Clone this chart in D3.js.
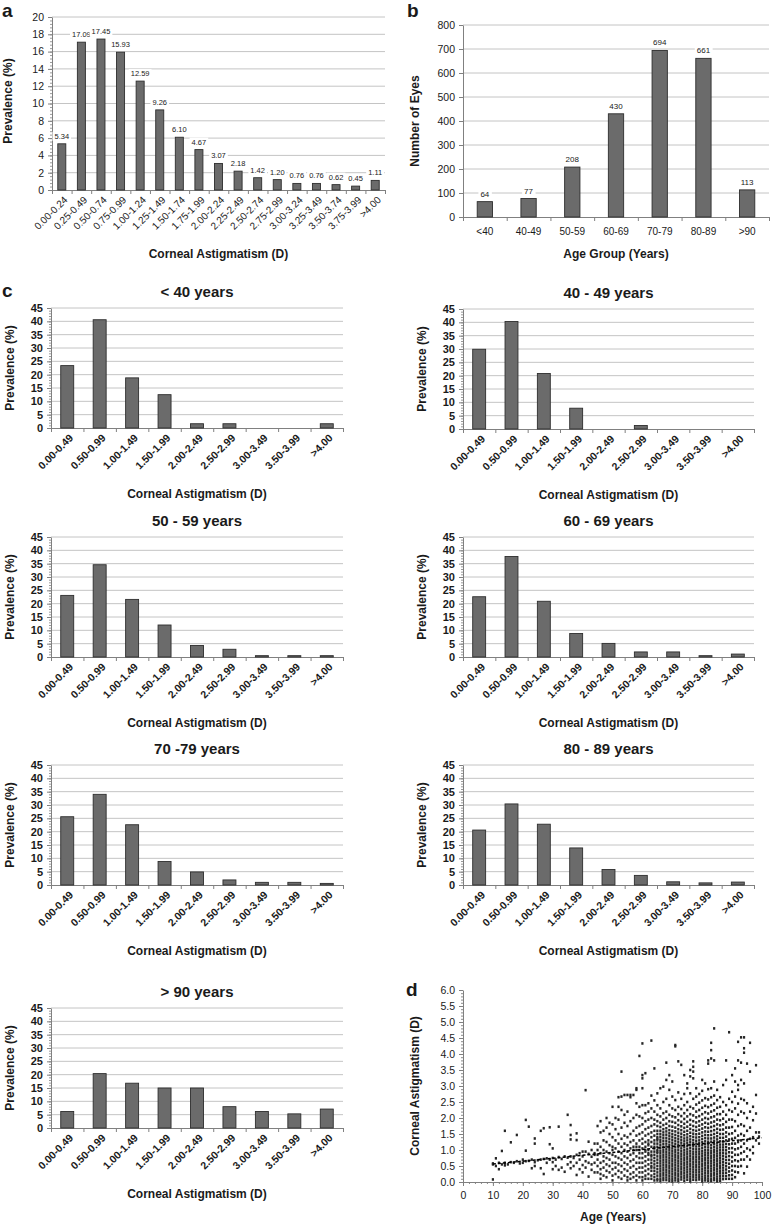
<!DOCTYPE html>
<html>
<head>
<meta charset="utf-8">
<script src="https://cdn.jsdelivr.net/npm/d3@7"></script>
<style>
  body { margin: 0; background: #fff; }
  svg text { font-family: "Liberation Sans", Arial, sans-serif; fill: #1a1a1a; }
</style>
</head>
<body>
<svg id="fig" width="774" height="1225"></svg>
<script>
// ---- panel a: prevalence by corneal astigmatism (all eyes)
const astigCatsFine = ['0.00-0.24', '0.25-0.49', '0.50-0.74', '0.75-0.99', '1.00-1.24', '1.25-1.49',
  '1.50-1.74', '1.75-1.99', '2.00-2.24', '2.25-2.49', '2.50-2.74', '2.75-2.99', '3.00-3.24',
  '3.25-3.49', '3.50-3.74', '3.75-3.99', '>4.00'];
const prevalenceAll = [5.34, 17.09, 17.45, 15.93, 12.59, 9.26, 6.10, 4.67, 3.07, 2.18, 1.42, 1.20,
  0.76, 0.76, 0.62, 0.45, 1.11];

// ---- panel b: eyes per age group
const ageGroups = ['<40', '40-49', '50-59', '60-69', '70-79', '80-89', '>90'];
const eyeCounts = [64, 77, 208, 430, 694, 661, 113];

// ---- panel c: prevalence by astigmatism, per age group
const astigCats = ['0.00-0.49', '0.50-0.99', '1.00-1.49', '1.50-1.99', '2.00-2.49', '2.50-2.99',
  '3.00-3.49', '3.50-3.99', '>4.00'];
const groupTitles = ['< 40 years', '40 - 49 years', '50 - 59 years', '60 - 69 years',
  '70 -79 years', '80 - 89 years', '> 90 years'];
const prevUnder40 = [23.4, 40.6, 18.8, 12.5, 1.6, 1.6, 0, 0, 1.6];
const prev40s = [29.9, 40.3, 20.8, 7.8, 0, 1.3, 0, 0, 0];
const prev50s = [23.1, 34.6, 21.6, 12.0, 4.3, 2.9, 0.5, 0.5, 0.5];
const prev60s = [22.6, 37.7, 20.9, 8.8, 5.1, 1.9, 1.9, 0.5, 1.1];
const prev70s = [25.6, 34.0, 22.6, 8.8, 4.9, 1.9, 1.0, 1.0, 0.6];
const prev80s = [20.6, 30.4, 22.8, 13.9, 5.8, 3.6, 1.2, 0.8, 1.1];
const prevOver90 = [6.2, 20.4, 16.8, 15.0, 15.0, 8.0, 6.2, 5.3, 7.1];

// ---- panel d: astigmatism vs age, one row per age (values in D)
const scatterRows = [
  [10, '0.08 0.58 0.55'], [11, '0.74 0.5'], [12, '0.4 0.6'], [13, '0.97 0.55'],
  [14, '1.6 0.6 0.52'], [15, '0.55'], [16, '1.24 0.62'], [17, '0.6'], [18, '1.47 0.65'],
  [19, '0.58'], [20, '0.6 0.7'], [21, '1.94 0.98 0.65'], [22, '1.73 0.66'], [23, '0.43 0.7'],
  [24, '1.36 1.2 0.5 0.62'], [25, '0.68'], [26, '1.6 0.43 0.7'], [27, '1.68 0.25 0.72'],
  [28, '0.74 0.6'], [29, '1.71 1.18 0.7'], [30, '1.05 0.4 0.75 0.62'], [31, '0.7 0.5'],
  [32, '1.73 0.38 0.78'], [33, '0.45 0.72'], [34, '0.32 0.8'], [35, '2.1 0.76 0.55'],
  [36, '1.78 1.47 1.33 0.43 0.8 0.62'], [37, '0.75 0.5'], [38, '1.52 1.31 0.22 0.85 0.6'],
  [39, '0.9 0.4 0.7'], [40, '0.53 0.95 0.8 0.3'], [41, '2.87 0.95 0.65 0.45'],
  [42, '1.26 0.17 0.88 0.6'], [43, '0.79 0.38 1.0 0.55'], [44, '1.2 0.85 0.6 0.3 0.9'],
  [45, '1.2 1.0 0.85 0.7 0.5 0.3 1.75'], [46, '1.9 1.55 1.1 0.9 0.6 0.4 0.1 0.25'],
  [47, '1.3 1.0 0.8 0.65 0.45 0.2 1.6'], [48, '2.0 1.7 1.25 0.95 0.75 0.55 0.35 0.15'],
  [49, '1.5 1.15 0.9 0.7 0.5 0.3 1.85'], [50, '2.35 1.8 1.4 1.1 0.85 0.6 0.4 0.2 0.05 1.0'],
  [51, '1.65 1.3 1.05 0.8 0.6 0.45 0.25 2.0'],
  [52, '2.35 1.95 1.5 1.2 0.95 0.75 0.55 0.35 0.15 2.65'],
  [53, '3.45 2.67 2.25 1.7 1.35 1.1 0.9 0.7 0.5 0.3 0.1'],
  [54, '1.85 1.45 1.2 1.0 0.8 0.6 0.4 0.2 2.1 2.72'],
  [55, '2.72 2.2 1.75 1.4 1.15 0.95 0.75 0.55 0.35 0.15 0.05'],
  [56, '2.65 1.9 1.5 1.25 1.05 0.85 0.65 0.45 0.25 0.1 2.72'],
  [57, '2.72 2.0 1.6 1.3 1.1 0.9 0.7 0.5 0.3 0.15 1.0'],
  [58, '2.88 2.46 2.1 1.7 1.45 1.2 1.0 0.8 0.6 0.4 0.2 0.05 1.1 2.93'],
  [59, '3.94 2.35 2.05 1.75 1.5 1.3 1.1 0.9 0.75 0.6 0.45 0.3 0.15 1.0'],
  [60, '4.33 3.34 3.24 2.93 2.4 2.0 1.8 1.55 1.35 1.2 1.05 0.9 0.75 0.6 0.45 0.3 0.15 0.05'],
  [61, '3.4 2.4 2.15 1.9 1.65 1.45 1.25 1.1 0.95 0.8 0.65 0.5 0.35 0.2 0.1 1.0'],
  [62, '2.46 2.2 1.95 1.7 1.5 1.3 1.15 1.0 0.85 0.7 0.55 0.4 0.25 0.1 0.9 1.2'],
  [63, '4.42 2.7 2.3 2.0 1.75 1.55 1.4 1.25 1.1 0.95 0.85 0.7 0.6 0.45 0.35 0.2 0.1 0.5 0.8'],
  [64, '3.55 2.55 2.2 1.95 1.8 1.6 1.45 1.3 1.2 1.05 0.95 0.85 0.75 0.65 0.55 0.45 0.35 0.25 0.15 0.05 1.1'],
  [65, '2.77 2.4 2.1 1.9 1.75 1.6 1.5 1.4 1.3 1.2 1.1 1.0 0.9 0.8 0.7 0.6 0.5 0.4 0.3 0.2 0.1 0.05 1.35 0.95'],
  [66, '2.93 2.3 2.05 1.85 1.72 1.6 1.5 1.41 1.32 1.24 1.15 1.07 0.98 0.9 0.82 0.74 0.66 0.58 0.5 0.42 0.34 0.26 0.18 0.1 0.03'],
  [67, '2.98 2.5 2.15 1.95 1.78 1.65 1.55 1.46 1.37 1.28 1.19 1.1 1.01 0.93 0.85 0.77 0.69 0.61 0.53 0.45 0.37 0.29 0.21 0.13 0.06'],
  [68, '3.73 3.19 2.6 2.2 2.0 1.82 1.68 1.58 1.48 1.38 1.29 1.2 1.11 1.02 0.94 0.86 0.78 0.7 0.62 0.54 0.46 0.38 0.3 0.22 0.14 0.06'],
  [69, '3.34 2.88 2.4 2.1 1.9 1.75 1.62 1.52 1.43 1.34 1.25 1.16 1.07 0.99 0.91 0.83 0.75 0.67 0.59 0.51 0.43 0.35 0.27 0.19 0.11 0.04'],
  [70, '3.14 2.67 2.3 2.05 1.88 1.73 1.6 1.5 1.41 1.32 1.23 1.14 1.05 0.97 0.89 0.81 0.73 0.65 0.57 0.49 0.41 0.33 0.25 0.17 0.09 0.02'],
  [71, '4.28 4.24 2.56 2.25 2.02 1.85 1.7 1.58 1.47 1.37 1.28 1.19 1.1 1.01 0.93 0.85 0.77 0.69 0.61 0.53 0.45 0.37 0.29 0.21 0.13 0.05'],
  [72, '3.77 2.8 2.35 2.12 1.93 1.78 1.65 1.54 1.44 1.35 1.26 1.17 1.08 0.99 0.9 0.82 0.74 0.66 0.58 0.5 0.42 0.34 0.26 0.18 0.1 0.03'],
  [73, '3.66 2.6 2.28 2.06 1.88 1.74 1.62 1.51 1.41 1.32 1.23 1.14 1.05 0.96 0.88 0.8 0.72 0.64 0.56 0.48 0.4 0.32 0.24 0.16 0.08'],
  [74, '3.34 2.75 2.4 2.15 1.97 1.82 1.69 1.57 1.46 1.36 1.27 1.18 1.09 1.0 0.92 0.84 0.76 0.68 0.6 0.52 0.44 0.36 0.28 0.2 0.12 0.04'],
  [75, '3.08 2.93 2.5 2.25 2.05 1.88 1.73 1.6 1.49 1.39 1.3 1.21 1.12 1.03 0.95 0.87 0.79 0.71 0.63 0.55 0.47 0.39 0.31 0.23 0.15 0.07'],
  [76, '3.5 3.3 2.77 2.35 2.12 1.94 1.79 1.66 1.54 1.43 1.33 1.24 1.15 1.06 0.97 0.89 0.81 0.73 0.65 0.57 0.49 0.41 0.33 0.25 0.17 0.09 0.02'],
  [77, '3.77 3.6 3.45 3.24 2.6 2.3 2.08 1.9 1.75 1.62 1.51 1.41 1.31 1.22 1.13 1.04 0.95 0.87 0.79 0.71 0.63 0.55 0.47 0.39 0.31 0.23 0.15 0.07'],
  [78, '2.93 2.67 2.42 2.2 2.02 1.86 1.72 1.6 1.49 1.39 1.29 1.2 1.11 1.02 0.94 0.86 0.78 0.7 0.62 0.54 0.46 0.38 0.3 0.22 0.14 0.06'],
  [79, '2.75 2.48 2.25 2.06 1.9 1.76 1.63 1.51 1.4 1.3 1.21 1.12 1.03 0.95 0.87 0.79 0.71 0.63 0.55 0.47 0.39 0.31 0.23 0.15 0.08'],
  [80, '3.19 2.85 2.55 2.32 2.12 1.95 1.8 1.67 1.55 1.44 1.34 1.24 1.15 1.06 0.97 0.89 0.81 0.73 0.65 0.57 0.49 0.41 0.33 0.25 0.17 0.09 0.02'],
  [81, '3.08 2.62 2.38 2.18 2.0 1.85 1.71 1.58 1.47 1.37 1.27 1.18 1.09 1.0 0.92 0.84 0.76 0.68 0.6 0.52 0.44 0.36 0.28 0.2 0.12 0.05'],
  [82, '3.8 3.7 2.9 2.58 2.34 2.14 1.97 1.82 1.69 1.57 1.46 1.36 1.26 1.17 1.08 0.99 0.91 0.83 0.75 0.67 0.59 0.51 0.43 0.35 0.27 0.19 0.11 0.04'],
  [83, '4.35 4.12 3.86 2.93 2.65 2.4 2.2 2.02 1.86 1.72 1.59 1.47 1.36 1.26 1.16 1.07 0.98 0.9 0.82 0.74 0.66 0.58 0.5 0.42 0.34 0.26 0.18 0.1 0.03'],
  [84, '4.8 3.8 3.14 2.7 2.45 2.24 2.05 1.89 1.75 1.62 1.5 1.39 1.29 1.19 1.1 1.01 0.93 0.85 0.77 0.69 0.61 0.53 0.45 0.37 0.29 0.21 0.13 0.06'],
  [85, '2.88 2.56 2.32 2.12 1.95 1.8 1.66 1.54 1.43 1.33 1.23 1.14 1.05 0.97 0.89 0.81 0.73 0.65 0.57 0.49 0.41 0.33 0.25 0.17 0.09 0.02'],
  [86, '2.65 2.35 2.12 1.93 1.77 1.63 1.5 1.38 1.27 1.17 1.08 0.99 0.91 0.83 0.75 0.67 0.59 0.51 0.43 0.35 0.27 0.19 0.11 0.04'],
  [87, '3.03 2.5 2.2 1.98 1.8 1.64 1.5 1.38 1.27 1.17 1.08 0.99 0.9 0.81 0.72 0.63 0.54 0.45 0.36 0.27 0.18 0.09'],
  [88, '3.8 3.19 2.4 2.1 1.88 1.7 1.55 1.42 1.3 1.19 1.09 0.99 0.89 0.79 0.69 0.59 0.49 0.39 0.29 0.19 0.1'],
  [89, '4.68 2.6 2.25 1.95 1.7 1.5 1.33 1.18 1.05 0.93 0.81 0.69 0.57 0.45 0.33 0.21 0.1'],
  [90, '3.34 2.82 2.5 2.2 1.95 1.72 1.52 1.35 1.2 1.06 0.92 0.78 0.64 0.5 0.36 0.22 0.1'],
  [91, '3.55 3.14 2.67 2.3 1.9 1.6 1.38 1.2 1.02 0.85 0.68 0.5 0.32 0.15'],
  [92, '4.38 3.8 3.03 2.88 2.45 2.1 1.75 1.45 1.25 1.05 0.85 0.65 0.48 0.3'],
  [93, '4.52 3.73 3.19 2.6 2.2 1.8 1.5 1.3 1.1 0.9 0.7 0.5'],
  [94, '4.52 4.18 4.04 3.08 2.56 2.15 1.75 1.45 1.2 0.95 0.7 0.27'],
  [95, '3.7 2.46 2.0 1.6 1.3 1.05 0.8 0.48'],
  [96, '4.35 3.45 2.2 1.7 1.35 1.0 0.7'],
  [97, '2.35 1.93 1.4 1.1 0.9'],
  [98, '3.65 2.72 2.14 1.55 1.3'],
  [99, '1.55 1.42 1.2']
];
const trendAges = [10, 100];
const trendFit = [0.56, 1.38];

const svg = d3.select('#fig');
const FONT = '"Liberation Sans", Arial, sans-serif';
const GRID = '#c4c4c4', AXIS = '#808080', BAR = '#6b6b6b', BAR_EDGE = '#2e2e2e';

function panelLetter(t, x, y) {
  svg.append('text').attr('x', x).attr('y', y).attr('font-size', 19).attr('font-weight', 'bold').text(t);
}

function styleAxis(g, opts) {
  g.select('.domain').attr('stroke', AXIS);
  g.selectAll('.tick line').attr('stroke', AXIS);
  g.selectAll('.tick text').attr('font-family', FONT).attr('font-size', opts.size)
    .attr('font-weight', opts.bold ? 'bold' : 'normal').attr('fill', '#1a1a1a');
}

// generic bar panel with gridlines
function barPanel(o) {
  const g = svg.append('g');
  const n = o.cats.length;
  const x = d3.scaleBand().domain(o.cats).range([o.x0, o.x1])
    .paddingInner(o.pad).paddingOuter(o.pad / 2);
  const y = d3.scaleLinear().domain([0, o.max]).range([o.yBot, o.yTop]);
  const majors = d3.range(0, o.max + 1e-9, o.step);

  g.selectAll('line.grid').data(majors.slice(1)).join('line')
    .attr('x1', o.x0).attr('x2', o.x1)
    .attr('y1', d => y(d)).attr('y2', d => y(d))
    .attr('stroke', GRID).attr('stroke-width', 1);

  if (o.minor) {
    const gm = g.append('g').attr('transform', `translate(${o.x0},0)`)
      .call(d3.axisLeft(y).tickValues(d3.range(0, o.max + 1e-9, o.minor)).tickSize(2).tickFormat(''));
    gm.select('.domain').remove();
    gm.selectAll('.tick line').attr('stroke', '#9a9a9a');
  }
  const gy = g.append('g').attr('transform', `translate(${o.x0},0)`)
    .call(d3.axisLeft(y).tickValues(majors).tickSize(4).tickSizeOuter(0).tickPadding(4));
  styleAxis(gy, { size: o.ySize, bold: o.yBold });

  // x axis: ticks at category boundaries
  const xb = d3.scaleLinear().domain([0, n]).range([o.x0, o.x1]);
  const gx = g.append('g').attr('transform', `translate(0,${o.yBot})`)
    .call(d3.axisBottom(xb).tickValues(d3.range(n + 1)).tickSize(4).tickSizeOuter(0).tickFormat(''));
  styleAxis(gx, { size: 9 });

  g.selectAll('rect.bar').data(o.vals).join('rect')
    .attr('x', (d, i) => x(o.cats[i])).attr('width', x.bandwidth())
    .attr('y', d => y(d)).attr('height', d => o.yBot - y(d))
    .attr('fill', BAR).attr('stroke', BAR_EDGE).attr('stroke-width', 0.9);

  if (o.labels) {
    const lab = g.selectAll('g.val').data(o.vals).join('g');
    const txt = lab.append('text')
      .attr('x', (d, i) => x(o.cats[i]) + x.bandwidth() / 2)
      .attr('y', d => y(d) - o.labelGap)
      .attr('text-anchor', 'middle').attr('font-size', o.labelSize)
      .text(d => o.labelFmt(d));
    // white knock-out behind each label, so gridlines break around it
    txt.each(function () {
      const b = this.getBBox();
      d3.select(this.parentNode).insert('rect', 'text')
        .attr('x', b.x - 2).attr('y', b.y).attr('width', b.width + 4).attr('height', b.height)
        .attr('fill', '#fff');
    });
  }

  // category labels
  const cx = c => x(c) + x.bandwidth() / 2;
  if (o.rotate) {
    g.selectAll('text.cat').data(o.cats).join('text')
      .attr('transform', c => `translate(${cx(c) + 4},${o.yBot + 8}) rotate(-45)`)
      .attr('text-anchor', 'end').attr('dy', '0.35em')
      .attr('font-size', o.xSize).attr('font-weight', o.xBold ? 'bold' : 'normal')
      .text(c => c);
  } else {
    g.selectAll('text.cat').data(o.cats).join('text')
      .attr('x', cx).attr('y', o.yBot + 18)
      .attr('text-anchor', 'middle').attr('font-size', o.xSize)
      .text(c => c);
  }

  if (o.title) {
    g.append('text').attr('x', (o.x0 + o.x1) / 2).attr('y', o.yTop - 11)
      .attr('text-anchor', 'middle').attr('font-size', 15).attr('font-weight', 'bold').text(o.title);
  }
  g.append('text').attr('x', (o.x0 + o.x1) / 2).attr('y', o.xTitleY)
    .attr('text-anchor', 'middle').attr('font-size', 12).attr('font-weight', 'bold').text(o.xTitle);
  g.append('text').attr('transform', `translate(${o.yTitleX},${o.yTitleCy}) rotate(-90)`)
    .attr('text-anchor', 'middle').attr('dy', '0.35em')
    .attr('font-size', 12).attr('font-weight', 'bold').text(o.yTitle);
}

// ---- a
panelLetter('a', 2, 17);
barPanel({
  cats: astigCatsFine, vals: prevalenceAll, x0: 52, x1: 385, yTop: 17, yBot: 190,
  max: 20, step: 2, minor: 0.4, pad: 0.59, ySize: 10.5, rotate: true, xSize: 10,
  labels: true, labelSize: 7.5, labelGap: 5, labelFmt: d3.format('.2f'),
  xTitle: 'Corneal Astigmatism (D)', xTitleY: 258, yTitle: 'Prevalence (%)', yTitleX: 8, yTitleCy: 101
});

// ---- b
panelLetter('b', 407, 17);
barPanel({
  cats: ageGroups, vals: eyeCounts, x0: 463, x1: 769, yTop: 25, yBot: 217,
  max: 800, step: 100, pad: 0.65, ySize: 10.5, rotate: false, xSize: 10,
  labels: true, labelSize: 8, labelGap: 5, labelFmt: d => d,
  xTitle: 'Age Group (Years)', xTitleY: 258, yTitle: 'Number of Eyes', yTitleX: 415, yTitleCy: 121
});

// ---- c
panelLetter('c', 2, 297);
const groupSeries = [prevUnder40, prev40s, prev50s, prev60s, prev70s, prev80s, prevOver90];
const rowTops = [308, 537, 765, 1008];
groupSeries.forEach((vals, i) => {
  const col = i % 2, row = Math.floor(i / 2);
  const top = rowTops[row] + (col === 1 && row === 0 ? 1 : 0);
  barPanel({
    cats: astigCats, vals: vals,
    x0: col ? 463 : 51, x1: col ? 754 : 343, yTop: top, yBot: top + 120,
    max: 45, step: 5, minor: 1, pad: 0.6, ySize: 11, yBold: true,
    rotate: true, xSize: 10.5, xBold: true, title: groupTitles[i],
    xTitle: 'Corneal Astigmatism (D)', xTitleY: top + 190,
    yTitle: 'Prevalence (%)', yTitleX: col ? 422 : 10, yTitleCy: top + 60
  });
});

// ---- d
panelLetter('d', 406, 996);
(function scatterPanel() {
  const g = svg.append('g');
  const x = d3.scaleLinear().domain([0, 100]).range([463, 762]);
  const y = d3.scaleLinear().domain([0, 6]).range([1182, 990]);

  const pts = [];
  scatterRows.forEach(([age, s]) => s.split(' ').forEach(v => pts.push([age, +v])));

  const gmy = g.append('g').attr('transform', 'translate(463,0)')
    .call(d3.axisLeft(y).tickValues(d3.range(0, 6.001, 0.1)).tickSize(2).tickFormat(''));
  gmy.select('.domain').remove();
  gmy.selectAll('.tick line').attr('stroke', '#8a8a8a');
  const gmx = g.append('g').attr('transform', 'translate(0,1182)')
    .call(d3.axisBottom(x).tickValues(d3.range(0, 100.1, 2)).tickSize(2).tickFormat(''));
  gmx.select('.domain').remove();
  gmx.selectAll('.tick line').attr('stroke', '#8a8a8a');

  const gy = g.append('g').attr('transform', 'translate(463,0)')
    .call(d3.axisLeft(y).tickValues(d3.range(0, 6.001, 0.5)).tickFormat(d3.format('.1f'))
      .tickSize(4).tickSizeOuter(0).tickPadding(4));
  styleAxis(gy, { size: 10.5 });
  const gx = g.append('g').attr('transform', 'translate(0,1182)')
    .call(d3.axisBottom(x).tickValues(d3.range(0, 100.1, 10)).tickSize(4).tickSizeOuter(0).tickPadding(6));
  styleAxis(gx, { size: 10.5 });

  g.selectAll('rect.pt').data(pts).join('rect')
    .attr('x', d => x(d[0]) - 1.1).attr('y', d => y(d[1]) - 1.3)
    .attr('width', 2.2).attr('height', 2.6).attr('fill', '#262626');

  g.append('path')
    .datum(trendAges.map((a, i) => [a, trendFit[i]]))
    .attr('d', d3.line().x(d => x(d[0])).y(d => y(d[1])))
    .attr('fill', 'none').attr('stroke', '#000').attr('stroke-width', 1.5)
    .attr('stroke-dasharray', '3,2');

  g.append('text').attr('x', 613).attr('y', 1221).attr('text-anchor', 'middle')
    .attr('font-size', 12).attr('font-weight', 'bold').text('Age (Years)');
  g.append('text').attr('transform', 'translate(415,1086) rotate(-90)')
    .attr('text-anchor', 'middle').attr('dy', '0.35em')
    .attr('font-size', 12).attr('font-weight', 'bold').text('Corneal Astigmatism (D)');
})();
</script>
</body>
</html>
